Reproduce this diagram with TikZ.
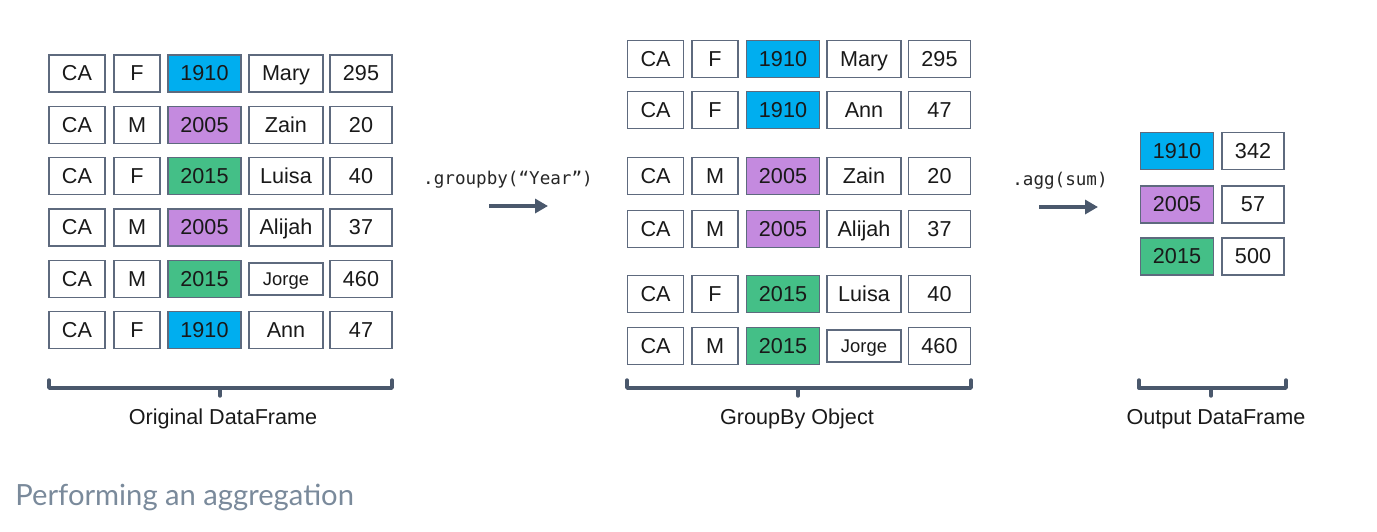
\documentclass[tikz,border=0pt]{standalone}
\usepackage{fontspec}
\setmainfont{Liberation Sans}
\newfontfamily\codefont{DejaVu Sans Mono}
\newfontfamily\captionfont{Lato}
\usetikzlibrary{arrows.meta}
\definecolor{year-blue}{HTML}{00AEEF}
\definecolor{year-purple}{HTML}{C48ADF}
\definecolor{year-green}{HTML}{44BF87}
\definecolor{cell-edge}{HTML}{5E6A7E}
\definecolor{slate}{HTML}{4A586C}
\definecolor{caption-gray}{HTML}{7A8A9B}
\tikzset{
    cell/.style = {draw=cell-edge, fill=white, line width=0.6pt, rectangle, inner sep=0pt, minimum height=18.5pt, text height=7.8pt, text depth=0.6pt, text=black!90, font=\fontsize{10.8}{12}\selectfont},
    col-state/.style = {minimum width=28pt},
    col-sex/.style = {minimum width=23pt},
    col-year/.style = {minimum width=36.5pt},
    col-name/.style = {minimum width=37pt},
    col-name-small/.style = {minimum width=37pt, minimum height=16pt, text height=6.8pt, font=\fontsize{9.2}{11}\selectfont},
    col-count/.style = {minimum width=31pt},
    y1910/.style = {fill=year-blue},
    y2005/.style = {fill=year-purple},
    y2015/.style = {fill=year-green},
    bracket/.style = {draw=slate, line width=1.7pt, line cap=round, line join=round},
    bracket-title/.style = {font=\fontsize{10.8}{12}\selectfont, text=black!90},
    flow/.style = {draw=slate, line width=1.7pt, -{Triangle[length=6.5pt, width=7pt]}},
    method/.style = {font=\codefont\fontsize{8.8}{10}\selectfont, text=black!85},
}
\begin{document}
\begin{tikzpicture}[x=0.5pt, y=-0.5pt]
\useasboundingbox (0,0) rectangle (1377,531);

% original dataframe
\foreach \y/\sex/\year/\name/\namestyle/\count [count=\r] in
    {73.5/F/1910/Mary/col-name/295, 125/M/2005/Zain/col-name/20, 176/F/2015/Luisa/col-name/40,
     227.5/M/2005/Alijah/col-name/37, 279/M/2015/Jorge/col-name-small/460, 330/F/1910/Ann/col-name/47}{
    \node[cell, col-state] (orig-\r-state) at (77,\y) {CA};
    \node[cell, col-sex] (orig-\r-sex) at (137,\y) {\sex};
    \node[cell, col-year, y\year] (orig-\r-year) at (204.5,\y) {\year};
    \node[cell, \namestyle] (orig-\r-name) at (286,\y) {\name};
    \node[cell, col-count] (orig-\r-count) at (361,\y) {\count};
}

% groupby object
\foreach \y/\sex/\year/\name/\namestyle/\count [count=\r] in
    {59/F/1910/Mary/col-name/295, 110/F/1910/Ann/col-name/47, 176/M/2005/Zain/col-name/20,
     229/M/2005/Alijah/col-name/37, 294/F/2015/Luisa/col-name/40, 346/M/2015/Jorge/col-name-small/460}{
    \node[cell, col-state] (group-\r-state) at (655.5,\y) {CA};
    \node[cell, col-sex] (group-\r-sex) at (715,\y) {\sex};
    \node[cell, col-year, y\year] (group-\r-year) at (783,\y) {\year};
    \node[cell, \namestyle] (group-\r-name) at (864,\y) {\name};
    \node[cell, col-count] (group-\r-count) at (939.5,\y) {\count};
}

% output dataframe
\foreach \y/\year/\count [count=\r] in {151/1910/342, 204.5/2005/57, 256.5/2015/500}{
    \node[cell, col-year, y\year] (out-\r-year) at (1177,\y) {\year};
    \node[cell, col-count] (out-\r-count) at (1253,\y) {\count};
}

% methods
\node[method] (groupby-label) at (508,180) {.groupby(“Year”)};
\coordinate (groupby-from) at (489,206);
\coordinate (groupby-to) at (548,206);
\draw[flow] (groupby-from) -- (groupby-to);

\node[method] (agg-label) at (1060,181) {.agg(sum)};
\coordinate (agg-from) at (1039,207);
\coordinate (agg-to) at (1098,207);
\draw[flow] (agg-from) -- (agg-to);

% brackets
\draw[bracket] (49,380) -- (49,388) -- (392,388) -- (392,380);
\draw[bracket] (220,388) -- (220,396);
\node[bracket-title] (orig-title) at (223,419) {Original DataFrame};

\draw[bracket] (627,380) -- (627,388) -- (971,388) -- (971,380);
\draw[bracket] (798,388) -- (798,396);
\node[bracket-title] (group-title) at (797,419) {GroupBy Object};

\draw[bracket] (1139,380) -- (1139,388) -- (1286,388) -- (1286,380);
\draw[bracket] (1211,388) -- (1211,396);
\node[bracket-title] (out-title) at (1216,419) {Output DataFrame};

\node[anchor=west, inner sep=0pt, text=caption-gray, font=\captionfont\fontsize{14.6}{16}\selectfont] (caption) at (15,497) {Performing an aggregation};
\end{tikzpicture}
\end{document}
